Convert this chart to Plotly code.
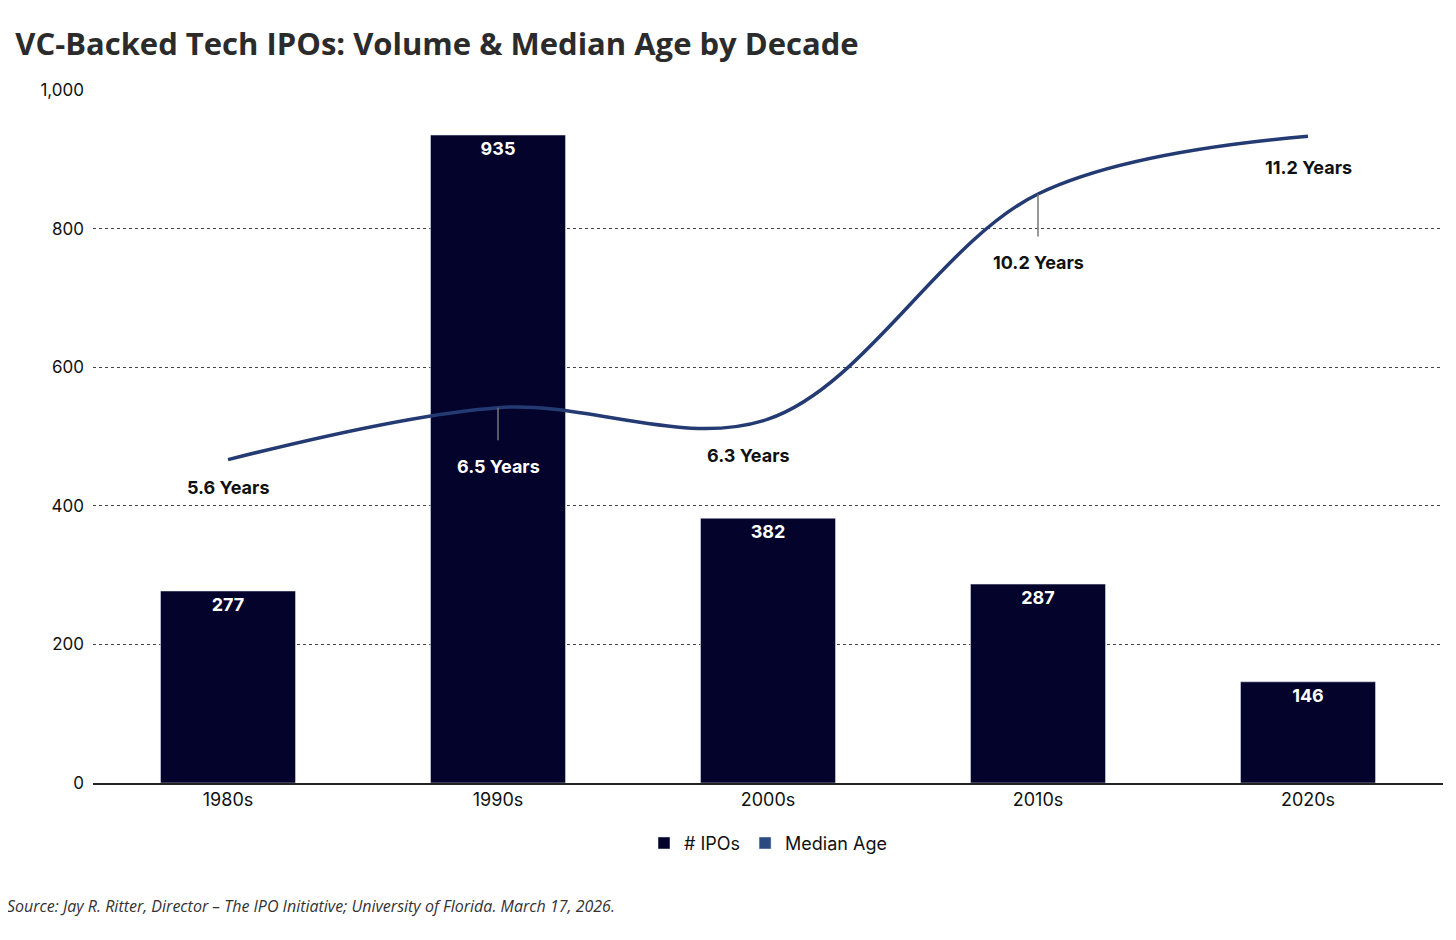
import plotly.graph_objects as go

decades = ["1980s", "1990s", "2000s", "2010s", "2020s"]
ipos = [277, 935, 382, 287, 146]
median_age = [5.6, 6.5, 6.3, 10.2, 11.2]
age_labels = ["5.6 Years", "6.5 Years", "6.3 Years", "10.2 Years", "11.2 Years"]
y_ticks = [0, 200, 400, 600, 800, 1000]
y_tick_labels = ["0", "200", "400", "600", "800", "1,000"]

BAR = "#03032b"
LINE = "#243a73"
FONT = "Inter"

fig = go.Figure()
fig.add_trace(go.Bar(x=decades, y=ipos, name="# IPOs", marker_color=BAR, width=0.5,
                     text=[f"<b>{v}</b>" for v in ipos], textposition="inside", insidetextanchor="end",
                     textfont=dict(color="white", size=18, family=FONT), cliponaxis=False))
fig.add_trace(go.Scatter(x=decades, y=median_age, yaxis="y2", mode="lines",
                         line=dict(color=LINE, width=3.5, shape="spline", smoothing=1.0),
                         showlegend=False, hoverinfo="skip"))
fig.add_trace(go.Bar(x=[decades[0]], y=[None], name="Median Age", marker_color="#2a4a80"))

offsets = [(0, 28, False), (0, 59, True), (-20, 36, False), (0, 69, True), (0, 31, False)]
for i, (dx, dy, tick) in enumerate(offsets):
    if tick:
        fig.add_annotation(x=decades[i], y=median_age[i], yref="y2", xref="x",
                           ax=0, ay=dy - 25, text="", showarrow=True, arrowhead=0,
                           arrowwidth=1.5, arrowcolor="#777777", standoff=0)
    color = "white" if i == 1 else "#111111"
    fig.add_annotation(x=decades[i], y=median_age[i], yref="y2", xref="x",
                       text=f"<b>{age_labels[i]}</b>", showarrow=False, xshift=dx, yshift=-dy,
                       font=dict(size=18, color=color, family=FONT))

fig.update_layout(
    width=1456, height=940, plot_bgcolor="white", paper_bgcolor="white",
    margin=dict(l=85, r=21, t=82, b=165),
    title=dict(text="<b>VC-Backed Tech IPOs: Volume &amp; Median Age by Decade</b>",
               x=0.005, xanchor="left", y=0.962, yanchor="middle",
               font=dict(family="Open Sans", size=31, color="#2b2b2b")),
    bargap=0.5, barmode="overlay",
    xaxis=dict(showline=True, linecolor="#222", linewidth=1.5, ticks="",
               tickfont=dict(family=FONT, size=18, color="#111")),
    yaxis=dict(range=[0, 1000], tickvals=y_ticks, ticktext=y_tick_labels,
               showgrid=True, gridcolor="#444", griddash="dot", gridwidth=1, zeroline=False,
               tickfont=dict(family=FONT, size=17, color="#111"), ticklabelstandoff=8),
    yaxis2=dict(range=[0, 12], overlaying="y", visible=False),
    legend=dict(orientation="h", x=0.5, xanchor="center", y=-0.087, yanchor="middle",
                font=dict(family=FONT, size=18, color="#111"), itemwidth=30),
    showlegend=True,
)
fig.add_annotation(text="<i>Source: Jay R. Ritter, Director – The IPO Initiative; University of Florida. March 17, 2026.</i>",
                   xref="paper", yref="paper", x=-0.065, y=-0.178, xanchor="left", yanchor="middle",
                   showarrow=False, font=dict(family="Open Sans", size=16, color="#333"))
fig.write_html("out.html")
